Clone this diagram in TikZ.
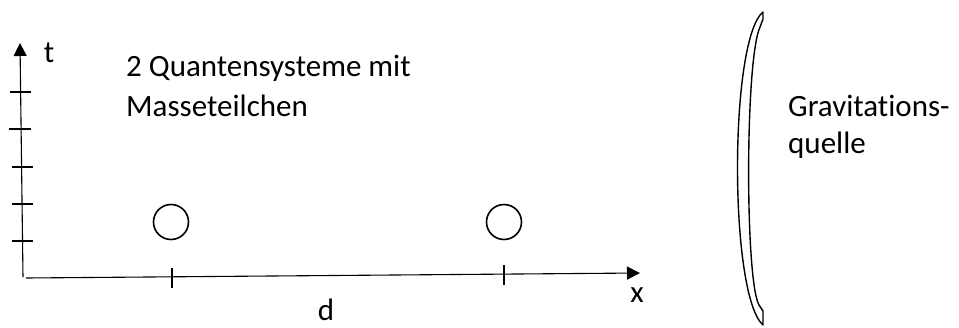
\documentclass[tikz,border=0pt]{standalone}
\usepackage{fontspec}
\setmainfont{Carlito}[RawFeature={-liga}]
\usetikzlibrary{arrows.meta}
\begin{document}
\begin{tikzpicture}[x=1pt,y=-1pt,
  axis/.style={line width=1.1pt,-{Triangle[length=13pt,width=13pt]}},
  tickmark/.style={line width=1.3pt},
  particle/.style={circle,draw,line width=1.6pt,minimum size=35pt,inner sep=0pt},
  lbl/.style={inner sep=0pt,anchor=base west,font=\fontsize{31}{40}\selectfont},
  axlbl/.style={inner sep=0pt,anchor=base,font=\fontsize{31}{40}\selectfont},
  src/.style={line width=1.4pt,line join=round}]
\useasboundingbox (0,0) rectangle (959,327);
% axes
\coordinate (O) at (23,277);
\coordinate (tend) at (20,43);
\coordinate (xstart) at (26,278);
\coordinate (xend) at (640,273);
\draw[axis] (O) -- (tend);
\draw[axis] (xstart) -- (xend);
% ticks on t axis
\foreach \yy/\xa/\xb in {92/10/31, 129/9/31, 167/12/33, 204/12/33, 241/12/33}
  \draw[tickmark] (\xa,\yy) -- (\xb,\yy);
% ticks on x axis
\coordinate (ta1) at (172,268); \coordinate (tb1) at (172,288);
\coordinate (ta2) at (504,265); \coordinate (tb2) at (504,285);
\draw[tickmark] (ta1) -- (tb1);
\draw[tickmark] (ta2) -- (tb2);
% particles
\node[particle] (p1) at (171,222) {};
\node[particle] (p2) at (504,222) {};
% labels
\node[axlbl] (tl) at (49,62) {t};
\node[axlbl] (xl) at (637,302) {x};
\node[axlbl] (dl) at (326,320) {d};
\node[lbl] (q1) at (126,76) {2 Quantensysteme mit};
\node[lbl] (q2) at (126,116) {Masseteilchen};
\node[lbl] (g1) at (788,116) {Gravitations-};
\node[lbl] (g2) at (788,153) {quelle};
% gravitation source
\draw[src] (763,12) -- (763,19) -- (760,27)
  .. controls (745,60) and (745,280) .. (759,305) -- (763,311) -- (763,325)
  .. controls (729,295) and (729,40) .. (763,12) -- cycle;
\end{tikzpicture}
\end{document}
